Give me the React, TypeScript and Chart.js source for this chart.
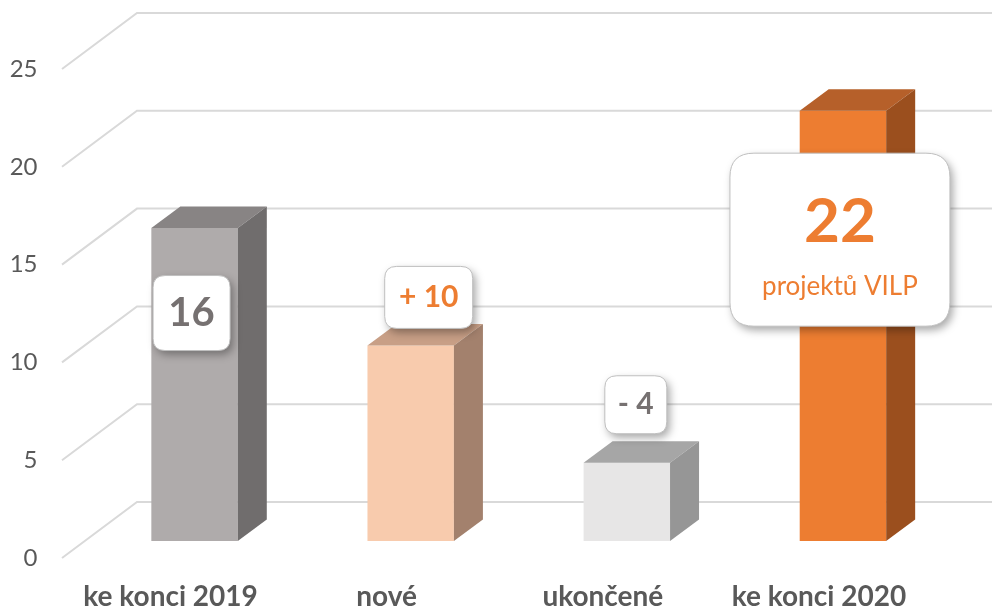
import React, { useEffect, useRef } from 'react';
import { Chart, registerables } from 'chart.js';

Chart.register(...registerables);

const categories = ['ke konci 2019', 'nové', 'ukončené', 'ke konci 2020'];
const values = [16, 10, 4, 22];
const yTicks = [0, 5, 10, 15, 20, 25];
const labelTexts = ['16', '+ 10', '- 4', '22'];
const labelSubtexts = ['', '', '', 'projektů VILP'];

const frontColors = ['#AFABAB', '#F8CBAD', '#E7E6E6', '#ED7D31'];
const topColors = ['#888484', '#C89F86', '#A6A6A6', '#B6602A'];
const sideColors = ['#706D6D', '#A3816D', '#969696', '#9B4F1E'];

const FONT = 'Lato, "Open Sans", sans-serif';
const GRID_COLOR = '#D9D9D9';
const DEPTH_DX = 29;
const DEPTH_DY = -21.5;

// label box styles (offsets relative to bar centre / bar top)
const boxStyles = [
  { ox: -3, oy: 85, w: 77, h: 75, r: 12, color: '#767171', size: 40, subSize: 0, textDy: 0, subDy: 0 },
  { ox: 18, oy: -48, w: 88, h: 62, r: 12, color: '#ED7D31', size: 30, subSize: 0, textDy: 0, subDy: 0 },
  { ox: 9, oy: -58, w: 62, h: 58, r: 12, color: '#767171', size: 30, subSize: 0, textDy: 0, subDy: 0 },
  { ox: -3, oy: 129, w: 220, h: 173, r: 24, color: '#ED7D31', size: 62, subSize: 26, textDy: -18, subDy: 47 },
];

function roundRect(ctx: CanvasRenderingContext2D, x: number, y: number, w: number, h: number, r: number) {
  ctx.beginPath();
  ctx.moveTo(x + r, y);
  ctx.lineTo(x + w - r, y);
  ctx.quadraticCurveTo(x + w, y, x + w, y + r);
  ctx.lineTo(x + w, y + h - r);
  ctx.quadraticCurveTo(x + w, y + h, x + w - r, y + h);
  ctx.lineTo(x + r, y + h);
  ctx.quadraticCurveTo(x, y + h, x, y + h - r);
  ctx.lineTo(x, y + r);
  ctx.quadraticCurveTo(x, y, x + r, y);
  ctx.closePath();
}

const perspectivePlugin = {
  id: 'perspective3d',
  beforeDatasetsDraw(chart: any) {
    const ctx: CanvasRenderingContext2D = chart.ctx;
    const yScale = chart.scales.y;
    const left = chart.chartArea.left;
    ctx.save();
    ctx.strokeStyle = GRID_COLOR;
    ctx.lineWidth = 2;
    yTicks.forEach((v) => {
      const y = yScale.getPixelForValue(v);
      ctx.beginPath();
      ctx.moveTo(left - 24.5, y + 17);
      ctx.lineTo(left + 50.5, y - 39);
      ctx.lineTo(chart.width, y - 39);
      ctx.stroke();
    });
    ctx.restore();
  },
  afterDatasetsDraw(chart: any) {
    const ctx: CanvasRenderingContext2D = chart.ctx;
    const meta = chart.getDatasetMeta(0);
    ctx.save();
    meta.data.forEach((bar: any, i: number) => {
      const x0 = bar.x - bar.width / 2;
      const x1 = bar.x + bar.width / 2;
      const top = bar.y;
      const base = bar.base;
      ctx.fillStyle = topColors[i];
      ctx.beginPath();
      ctx.moveTo(x0, top);
      ctx.lineTo(x0 + DEPTH_DX, top + DEPTH_DY);
      ctx.lineTo(x1 + DEPTH_DX, top + DEPTH_DY);
      ctx.lineTo(x1, top);
      ctx.closePath();
      ctx.fill();
      ctx.fillStyle = sideColors[i];
      ctx.beginPath();
      ctx.moveTo(x1, top);
      ctx.lineTo(x1 + DEPTH_DX, top + DEPTH_DY);
      ctx.lineTo(x1 + DEPTH_DX, base + DEPTH_DY);
      ctx.lineTo(x1, base);
      ctx.closePath();
      ctx.fill();
    });
    meta.data.forEach((bar: any, i: number) => {
      const s = boxStyles[i];
      const cx = bar.x + s.ox;
      const cy = bar.y + s.oy;
      const bx = cx - s.w / 2;
      const by = cy - s.h / 2;
      ctx.save();
      ctx.shadowColor = 'rgba(0,0,0,0.35)';
      ctx.shadowBlur = 9;
      ctx.shadowOffsetX = 3;
      ctx.shadowOffsetY = 4;
      roundRect(ctx, bx, by, s.w, s.h, s.r);
      ctx.fillStyle = '#FFFFFF';
      ctx.fill();
      ctx.restore();
      roundRect(ctx, bx, by, s.w, s.h, s.r);
      ctx.strokeStyle = '#BFBFBF';
      ctx.lineWidth = 1;
      ctx.stroke();
      ctx.fillStyle = s.color;
      ctx.textAlign = 'center';
      ctx.textBaseline = 'middle';
      ctx.font = `bold ${s.size}px ${FONT}`;
      ctx.fillText(labelTexts[i], cx, cy + s.textDy);
      if (labelSubtexts[i]) {
        ctx.font = `normal ${s.subSize}px ${FONT}`;
        ctx.fillText(labelSubtexts[i], cx, cy + s.subDy);
      }
    });
    ctx.restore();
  },
};

export default function App() {
  const canvasRef = useRef<HTMLCanvasElement | null>(null);

  useEffect(() => {
    document.body.style.margin = '0';
    const canvas = canvasRef.current;
    if (!canvas) return;
    const chart = new Chart(canvas, {
      type: 'bar',
      data: {
        labels: categories,
        datasets: [
          {
            data: values,
            backgroundColor: frontColors,
            borderWidth: 0,
            barPercentage: 0.8,
            categoryPercentage: 0.5,
          },
        ],
      },
      options: {
        animation: false,
        responsive: false,
        maintainAspectRatio: false,
        layout: { padding: { top: 52, right: 41, left: 0, bottom: 0 } },
        plugins: {
          legend: { display: false },
          tooltip: { enabled: false },
        },
        scales: {
          x: {
            grid: { display: false, drawTicks: false },
            border: { display: false },
            ticks: {
              color: '#595959',
              font: { family: FONT, size: 28, weight: 'bold' },
              labelOffset: -24,
              padding: 39,
              maxRotation: 0,
              autoSkip: false,
            },
            afterFit: (scale: any) => {
              scale.height = 68;
              scale.paddingLeft = 0;
              scale.paddingRight = 0;
            },
          },
          y: {
            min: 0,
            max: 25,
            grid: { display: false, drawTicks: false },
            border: { display: false },
            ticks: {
              stepSize: 5,
              color: '#595959',
              font: { family: FONT, size: 24 },
              labelOffset: 17,
              padding: 49,
            },
            afterFit: (scale: any) => {
              scale.width = 86.5;
              scale.paddingTop = 0;
              scale.paddingBottom = 0;
            },
          },
        },
      },
      plugins: [perspectivePlugin],
    });
    return () => {
      chart.destroy();
    };
  }, []);

  return (
    <div style={{ position: 'absolute', left: 0, top: 0, width: 992, height: 609, background: '#FFFFFF' }}>
      <canvas ref={canvasRef} width={992} height={609} />
    </div>
  );
}
